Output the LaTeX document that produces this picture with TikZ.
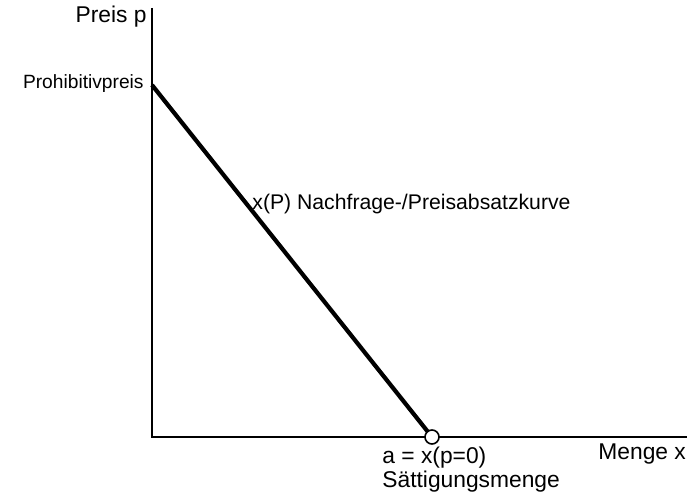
\documentclass[tikz,border=0pt]{standalone}
\usepackage{fontspec}
\setmainfont{Liberation Sans}
\usetikzlibrary{calc}

\begin{document}
\begin{tikzpicture}[x=0.5pt,y=-0.5pt,
  lbl/.style={font=\fontsize{11.4}{13}\selectfont,inner sep=0pt},
  mid/.style={font=\fontsize{10.6}{12}\selectfont,inner sep=0pt},
  small/.style={font=\fontsize{9.6}{11}\selectfont,inner sep=0pt},
  axis/.style={line width=1pt},
  curve/.style={line width=2.1pt}]
\useasboundingbox (0,0) rectangle (700,496);

\coordinate (O) at (152,437);
\coordinate (ytop) at (152,8);
\coordinate (xend) at (687,437);
\coordinate (pmax) at (152,85);

\draw[axis] (ytop) -- (O) -- (xend);
\draw[curve] (pmax) -- (432,437) node[circle,draw,fill=white,line width=0.8pt,inner sep=0pt,minimum size=7pt] (sat) {};

\node[lbl,anchor=base east] (preis) at (147,23) {Preis p};
\node[small,anchor=base east] (prohib) at (144,89) {Prohibitivpreis};
\node[mid,anchor=base west] (kurve) at (252,210) {x(P) Nachfrage-/Preisabsatzkurve};
\node[lbl,anchor=base west] (amenge) at (382,463) {a = x(p=0)};
\node[lbl,anchor=base west] (saett) at (382,487) {Sättigungsmenge};
\node[lbl,anchor=base west] (menge) at (598,459) {Menge x};
\end{tikzpicture}
\end{document}
